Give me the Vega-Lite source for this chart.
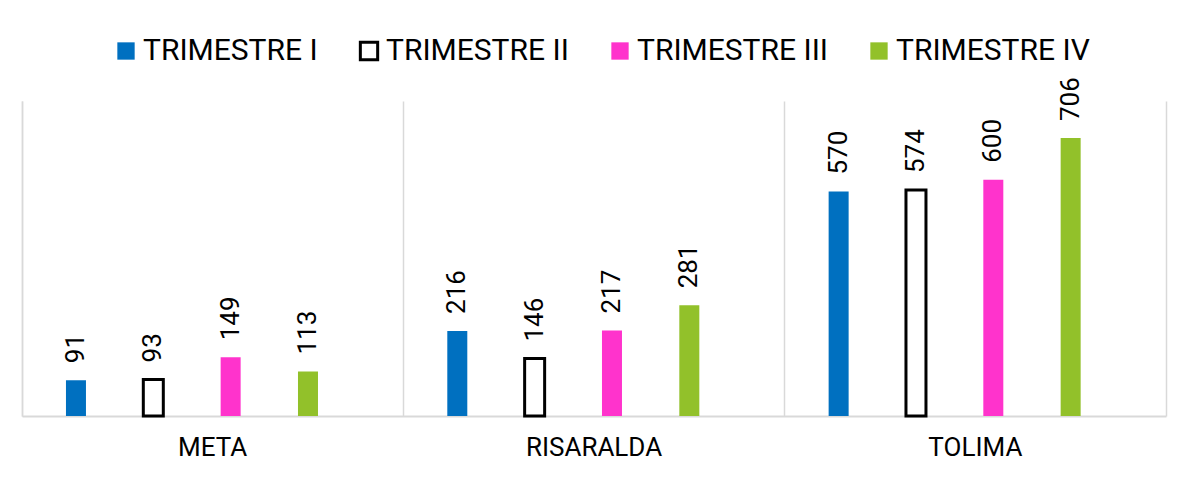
{
  "$schema": "https://vega.github.io/schema/vega-lite/v6.json",
  "autosize": "none",
  "width": 1144,
  "height": 315,
  "padding": {"left": 22, "top": 101, "right": 12, "bottom": 73},
  "background": "white",
  "config": {
    "font": "Roboto",
    "view": {"stroke": null},
    "axis": {"domainColor": "#D9D9D9", "gridColor": "#D9D9D9"}
  },
  "data": {
    "values": [
      {"depto": "META", "trimestre": "TRIMESTRE I", "valor": 91},
      {"depto": "META", "trimestre": "TRIMESTRE II", "valor": 93},
      {"depto": "META", "trimestre": "TRIMESTRE III", "valor": 149},
      {"depto": "META", "trimestre": "TRIMESTRE IV", "valor": 113},
      {"depto": "RISARALDA", "trimestre": "TRIMESTRE I", "valor": 216},
      {"depto": "RISARALDA", "trimestre": "TRIMESTRE II", "valor": 146},
      {"depto": "RISARALDA", "trimestre": "TRIMESTRE III", "valor": 217},
      {"depto": "RISARALDA", "trimestre": "TRIMESTRE IV", "valor": 281},
      {"depto": "TOLIMA", "trimestre": "TRIMESTRE I", "valor": 570},
      {"depto": "TOLIMA", "trimestre": "TRIMESTRE II", "valor": 574},
      {"depto": "TOLIMA", "trimestre": "TRIMESTRE III", "valor": 600},
      {"depto": "TOLIMA", "trimestre": "TRIMESTRE IV", "valor": 706}
    ]
  },
  "encoding": {
    "x": {
      "field": "depto",
      "type": "nominal",
      "scale": {"paddingInner": 0, "paddingOuter": 0},
      "axis": {
        "title": null,
        "labelAngle": 0,
        "labelFontSize": 26,
        "labelColor": "#000000",
        "labelPadding": 18,
        "ticks": false,
        "grid": true,
        "bandPosition": 0,
        "gridWidth": 1.5,
        "domainWidth": 2
      }
    },
    "xOffset": {
      "field": "trimestre",
      "type": "nominal",
      "scale": {"paddingInner": 0.7414, "paddingOuter": 0.836, "align": 0.34}
    },
    "y": {
      "field": "valor",
      "type": "quantitative",
      "scale": {"domain": [0, 800]}
    }
  },
  "layer": [
    {
      "mark": {"type": "bar", "strokeWidth": 3},
      "encoding": {
        "y": {
          "field": "valor",
          "type": "quantitative",
          "axis": {"title": null, "labels": false, "ticks": false, "grid": false, "domainWidth": 1.5}
        },
        "fill": {
          "field": "trimestre",
          "type": "nominal",
          "scale": {"range": ["#0070C0", "#FFFFFF", "#FF33CC", "#92C12A"]},
          "legend": {
            "title": null,
            "orient": "none",
            "direction": "horizontal",
            "legendX": 89,
            "legendY": -65,
            "padding": 0,
            "symbolType": "square",
            "symbolSize": 300,
            "symbolStrokeWidth": 3,
            "labelFontSize": 30,
            "labelColor": "#000000",
            "labelOffset": 2,
            "columnPadding": 36,
            "labelLimit": 400
          }
        },
        "stroke": {
          "field": "trimestre",
          "type": "nominal",
          "scale": {"range": ["transparent", "#000000", "transparent", "transparent"]},
          "legend": {
            "title": null,
            "orient": "none",
            "direction": "horizontal",
            "legendX": 89,
            "legendY": -65,
            "padding": 0,
            "symbolType": "square",
            "symbolSize": 300,
            "symbolStrokeWidth": 3,
            "labelFontSize": 30,
            "labelColor": "#000000",
            "labelOffset": 2,
            "columnPadding": 36,
            "labelLimit": 400
          }
        }
      }
    },
    {
      "mark": {"type": "text", "angle": 270, "align": "left", "baseline": "middle", "dx": 17, "fontSize": 26, "color": "#000000"},
      "encoding": {
        "y": {
          "field": "valor",
          "type": "quantitative",
          "axis": {"orient": "right", "title": null, "labels": false, "ticks": false, "grid": false, "domainWidth": 1.5}
        },
        "text": {"field": "valor", "type": "quantitative"}
      }
    }
  ],
  "resolve": {"axis": {"y": "independent"}}
}
